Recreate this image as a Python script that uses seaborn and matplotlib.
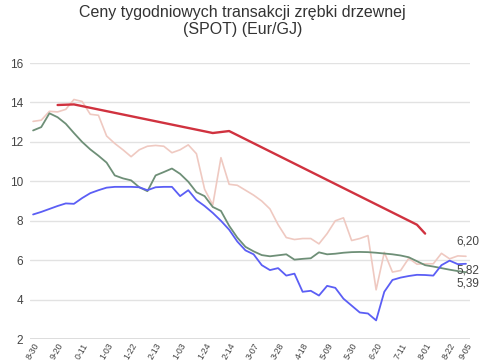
import numpy as np
import pandas as pd
import matplotlib
matplotlib.use("Agg")
import matplotlib.pyplot as plt
import seaborn as sns

# ---- data (weekly, index 0..53) ----
week_idx = list(range(54))

pink = [13.04, 13.10, 13.55, 13.52, 13.65, 14.15, 14.05, 13.40, 13.35, 12.30,
        11.92, 11.60, 11.25, 11.60, 11.78, 11.82, 11.78, 11.45, 11.60, 11.85,
        11.40, 9.60, 8.80, 11.20, 9.85, 9.80, 9.55, 9.30, 9.00, 8.60,
        7.80, 7.15, 7.05, 7.10, 7.10, 6.83, 7.35, 8.00, 8.15, 7.00,
        7.10, 7.25, 4.50, 6.40, 5.40, 5.48, 6.10, 5.80, 5.82, 5.82,
        6.35, 6.07, 6.22, 6.20]

green = [12.58, 12.75, 13.45, 13.25, 12.92, 12.45, 12.00, 11.62, 11.30, 10.95,
         10.30, 10.15, 10.05, 9.70, 9.50, 10.30, 10.47, 10.65, 10.38, 9.98,
         9.45, 9.25, 8.70, 8.50, 7.75, 7.15, 6.68, 6.45, 6.26, 6.20,
         6.25, 6.30, 6.03, 6.07, 6.10, 6.40, 6.30, 6.33, 6.38, 6.41,
         6.42, 6.41, 6.38, 6.34, 6.30, 6.24, 6.15, 5.95, 5.75, 5.68,
         5.60, 5.52, 5.45, 5.39]

blue = [8.32, 8.45, 8.60, 8.75, 8.88, 8.86, 9.15, 9.40, 9.55, 9.68,
        9.72, 9.72, 9.72, 9.70, 9.55, 9.70, 9.72, 9.72, 9.25, 9.55,
        9.05, 8.75, 8.40, 8.00, 7.55, 6.95, 6.50, 6.30, 5.75, 5.50,
        5.60, 5.22, 5.32, 4.40, 4.45, 4.21, 4.70, 4.60, 4.05, 3.70,
        3.35, 3.30, 2.95, 4.40, 5.00, 5.12, 5.20, 5.26, 5.25, 5.22,
        5.75, 5.98, 5.80, 5.82]

red_idx = [3, 5, 22, 24, 47, 48]
red_vals = [13.87, 13.90, 12.45, 12.55, 7.80, 7.35]

tick_pos = [0, 3, 6, 9, 12, 15, 18, 21, 24, 27, 30, 33, 36, 39, 42, 45, 48, 51, 53]
tick_labels = ["8-30", "9-20", "0-11", "1-03", "1-22", "2-13", "1-03", "1-24",
               "2-14", "3-07", "3-28", "4-18", "5-09", "5-30", "6-20", "7-11",
               "8-01", "8-22", "9-05"]

end_labels = ["6,20", "5,82", "5,39"]

title = "Ceny tygodniowych transakcji zrębki drzewnej\n(SPOT) (Eur/GJ)"

# ---- plot ----
sns.set_theme(style="white")
plt.rcParams["font.family"] = ["Liberation Sans", "DejaVu Sans"]

fig = plt.figure(figsize=(4.85, 3.6), dpi=100)
ax = fig.add_axes([0.062, 0.058, 0.907, 0.767])

c_pink = "#efc9c1"
c_green = "#6e8f77"
c_blue = "#5b5ef5"
c_red = "#d0323f"

sns.lineplot(x=week_idx, y=pink, ax=ax, color=c_pink, lw=1.2)
sns.lineplot(x=week_idx, y=green, ax=ax, color=c_green, lw=1.3)
sns.lineplot(x=week_idx, y=blue, ax=ax, color=c_blue, lw=1.3)
sns.lineplot(x=red_idx, y=red_vals, ax=ax, color=c_red, lw=1.7)

ax.set_xlim(-0.37, 53.49)
ax.set_ylim(2, 16)
ax.set_yticks(range(2, 17, 2))
ax.yaxis.grid(True, color="#e2e2e2", lw=1.0)
ax.xaxis.grid(False)
for s in ax.spines.values():
    s.set_visible(False)
ax.axhline(2, color="#dddddd", lw=1.4, zorder=0)

ax.set_xticks(tick_pos)
ax.set_xticklabels(tick_labels, rotation=60, ha="right", rotation_mode="anchor",
                   fontsize=6.3, color="#444444")
ax.tick_params(axis="y", labelsize=8.5, colors="#444444", length=0, pad=5)
ax.tick_params(axis="x", length=0, pad=1.5)
ax.set_xlabel("")
ax.set_ylabel("")

# end labels
ends = [(pink, 11), (blue, -5), (green, -8)]
for (series, dy), lab in zip(ends, end_labels):
    ax.annotate(lab, xy=(week_idx[-1], series[-1]), xytext=(-7, dy),
                textcoords="offset points", fontsize=8.5, color="#444444",
                va="center", ha="left")

fig.text(0.5, 0.985, title, ha="center", va="top", fontsize=11.5,
         color="#333333", linespacing=1.15)

fig.savefig("out.png", dpi=100)
